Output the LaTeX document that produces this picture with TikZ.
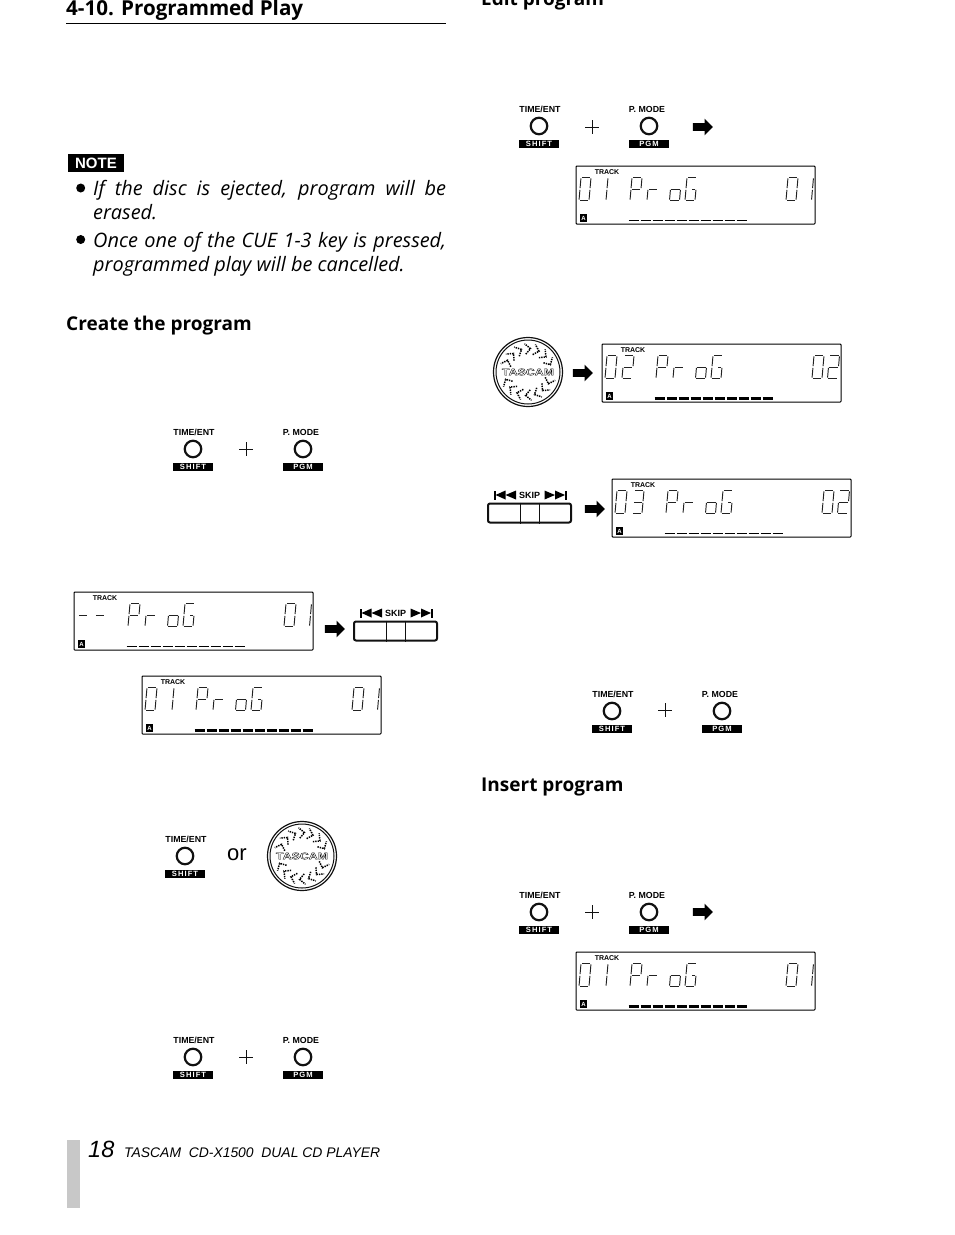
\documentclass[tikz,border=0pt]{standalone}
\usepackage{fontspec}
\setmainfont{Open Sans}
\newfontfamily\labelfont{Liberation Sans}
\newfontfamily\spacedfont[LetterSpace=14]{Liberation Sans}
\usetikzlibrary{shapes.arrows}
\definecolor{PanelInk}{HTML}{111111}
\definecolor{SegmentInk}{HTML}{222222}
\definecolor{SideBar}{HTML}{C8C8C8}
\newcommand{\SizePx}[2]{\fontsize{#1}{#2}\selectfont}
\newcommand{\OutlineWord}[1]{\special{pdf:code q 2 Tr 0.3 w 0 G 1 g}#1\special{pdf:code Q}}
\def\GlyphZero{TL/TR,TR/MR,MR/BR,BR/BL,BL/ML,ML/TL}
\def\GlyphOne{TR/MR,MR/BR}
\def\GlyphTwo{TL/TR,TR/MR,ML/MR,ML/BL,BL/BR}
\def\GlyphThree{TL/TR,TR/MR,ML/MR,MR/BR,BL/BR}
\def\GlyphDash{ML/MR}
\def\GlyphP{TL/TR,TR/MR,ML/MR,ML/TL,ML/BL}
\def\GlyphR{ML/MR,ML/BL}
\def\GlyphO{ML/MR,MR/BR,BR/BL,BL/ML}
\def\GlyphG{TL/TR,ML/TL,ML/BL,BL/BR,MR/BR,MC/MR}
\newcommand{\DrawGlyph}[3]{%
  \begin{scope}[shift={(#1,#2)}]
    \coordinate (TL) at (2,0);
    \coordinate (TR) at (12,0);
    \coordinate (ML) at (1,11.5);
    \coordinate (MC) at (6.5,11.5);
    \coordinate (MR) at (11,11.5);
    \coordinate (BL) at (0,23);
    \coordinate (BR) at (10,23);
    \foreach \from/\to in #3 {\draw[SegLine] (\from) -- (\to);}
  \end{scope}}
\newcommand{\LcdPanel}[8]{%
  \begin{scope}[shift={(#2,#3)},name prefix=#1-]
    \node[LcdFrame] (frame) at (0,0) {};
    \node[LcdTrack] (track) at (31,6.5) {TRACK};
    \node[LcdBadge] (badge) at (7.5,52) {A};
    \DrawGlyph{3}{11.5}{#4}
    \DrawGlyph{20}{11.5}{#5}
    \DrawGlyph{54}{11.5}{\GlyphP}
    \DrawGlyph{71}{11.5}{\GlyphR}
    \DrawGlyph{93.5}{11.5}{\GlyphO}
    \DrawGlyph{109}{11.5}{\GlyphG}
    \DrawGlyph{210}{11.5}{#6}
    \DrawGlyph{225.5}{11.5}{#7}
    \foreach \i in {0,...,9} {\draw[#8] ({52.5+12*\i},54.5) -- ++(10.5,0);}
  \end{scope}}
\newcommand{\PlusSign}[2]{\draw[PlusLine] (#1-7,#2) -- (#1+7,#2) (#1,#2-7) -- (#1,#2+7);}
\tikzset{
  SegLine/.style={draw=SegmentInk,line width=0.95pt,shorten >=0.9pt,shorten <=0.9pt},
  ThinDash/.style={draw=black,line width=1pt},
  BoldDash/.style={draw=black,line width=2.3pt},
  LcdFrame/.style={draw=black,line width=1pt,rounded corners=0.8pt,anchor=north west,inner sep=0pt,outer sep=0pt,minimum width=239pt,minimum height=58pt},
  LcdTrack/.style={font=\labelfont\bfseries\SizePx{7}{7},inner sep=0pt},
  LcdBadge/.style={fill=black,text=white,font=\labelfont\bfseries\SizePx{6}{6},inner sep=0pt,minimum size=7.5pt},
  KeyName/.style={font=\labelfont\bfseries\SizePx{8.8}{9},inner sep=0pt},
  KeyRing/.style={draw=PanelInk,circle,line width=2.2pt,inner sep=0pt,minimum size=16.5pt},
  KeyBar/.style={fill=black,text=white,font=\spacedfont\bfseries\SizePx{7.6}{8},inner sep=0pt,minimum width=40pt,minimum height=8pt},
  BlockArrow/.style={single arrow,fill=black,inner xsep=0pt,inner ysep=3.75pt,minimum height=20pt,single arrow head extend=4.5pt,single arrow tip angle=90},
  PlusLine/.style={draw=PanelInk,line width=1pt},
  PageHead/.style={font=\bfseries\SizePx{19}{24},anchor=base west,inner sep=0pt},
  NoteText/.style={font=\itshape\SizePx{19.9}{24},anchor=north west,inner sep=0pt,text width=353pt,align=justify},
  DotMark/.style={circle,fill=black,inner sep=0pt,minimum size=9pt},
  ChevronDots/.style={draw=black,line width=1.5pt,dash pattern=on 1.4pt off 1pt},
  pics/TimeKey/.style={code={
    \node[KeyName] (name) at (1,-17) {TIME/ENT};
    \node[KeyRing] (ring) at (0,0) {};
    \node[KeyBar] (bar) at (0,17.5) {SHIFT};
  }},
  pics/ModeKey/.style={code={
    \node[KeyName] (name) at (-2,-17) {P. MODE};
    \node[KeyRing] (ring) at (0,0) {};
    \node[KeyBar] (bar) at (0,18) {PGM};
  }},
  pics/SkipKey/.style={code={
    \node[draw=PanelInk,line width=2pt,rounded corners=2pt,inner sep=0pt,minimum width=83pt,minimum height=19pt] (frame) at (0,0) {};
    \draw[PanelInk,line width=1pt] ([xshift=-9.5pt]frame.north) -- ([xshift=-9.5pt]frame.south);
    \draw[PanelInk,line width=1pt] ([xshift=9.5pt]frame.north) -- ([xshift=9.5pt]frame.south);
    \node[font=\labelfont\bfseries\SizePx{9}{9},inner sep=0pt] (name) at (0,-18) {SKIP};
    \fill (-35.5,-22.5) rectangle (-33.5,-13.5);
    \fill (-34,-18) -- (-24,-22.5) -- (-24,-13.5) -- cycle;
    \fill (-24,-18) -- (-13.5,-22.5) -- (-13.5,-13.5) -- cycle;
    \fill (37,-22.5) rectangle (35,-13.5);
    \fill (35.5,-18) -- (25.5,-22.5) -- (25.5,-13.5) -- cycle;
    \fill (25.5,-18) -- (15,-22.5) -- (15,-13.5) -- cycle;
  }},
  pics/JogWheel/.style={code={
    \node[draw=PanelInk,circle,line width=1.2pt,inner sep=0pt,minimum size=69pt] (rim) at (0,0) {};
    \node[draw=PanelInk,circle,line width=1pt,inner sep=0pt,minimum size=64pt] (inner) at (0,0) {};
    \foreach \ang in {205,227,...,337,25,47,...,157} {
      \draw[ChevronDots] (\ang-8:18) -- (\ang+5:23.5) -- (\ang-8:28.5);
    }
    \node[font=\labelfont\bfseries\SizePx{9.5}{9.5},xscale=1.3,transform shape,inner sep=0pt] (brand) at (0,0) {\OutlineWord{TASCAM}};
  }},
}
\begin{document}
\begin{tikzpicture}[x=1pt,y=-1pt]
\useasboundingbox (0,0) rectangle (954,1235);
\node[PageHead,font=\bfseries\SizePx{20.6}{24}] (title) at (66,15) {4-10. Programmed Play};
\draw[black,line width=1pt] (66,23.5) -- (446,23.5);
\node[PageHead] (edit) at (481,5) {Edit program};
\node[PageHead] (create) at (66,330) {Create the program};
\node[PageHead] (insert) at (481,791) {Insert program};
\node[fill=black,text=white,font=\labelfont\bfseries\SizePx{15}{15},inner sep=0pt,minimum width=56pt,minimum height=17.5pt] (note) at (96,163) {NOTE};
\node[DotMark] (dotA) at (80.7,188) {};
\node[DotMark] (dotB) at (80.7,239.5) {};
\node[NoteText] (textA) at (93,180.5) {If the disc is ejected, program will be\linebreak erased.};
\node[NoteText] (textB) at (93,232) {Once one of the CUE 1-3 key is pressed,\linebreak programmed play will be cancelled.};

\pic (timeA) at (193,449) {TimeKey};
\PlusSign{246}{449}
\pic (modeA) at (303,449) {ModeKey};

\LcdPanel{lcdA}{74}{592}{\GlyphDash}{\GlyphDash}{\GlyphZero}{\GlyphOne}{ThinDash}
\node[BlockArrow] (arrowA) at (333,629) {};
\pic (skipA) at (395.5,631) {SkipKey};
\LcdPanel{lcdB}{142}{676}{\GlyphZero}{\GlyphOne}{\GlyphZero}{\GlyphOne}{BoldDash}

\pic (timeB) at (185,856) {TimeKey};
\node[font=\labelfont\SizePx{22}{22},inner sep=0pt] (orword) at (237,855) {or};
\pic (wheelA) at (302,856) {JogWheel};

\pic (timeC) at (193,1057) {TimeKey};
\PlusSign{246}{1057}
\pic (modeC) at (303,1057) {ModeKey};

\pic (timeD) at (539,126) {TimeKey};
\PlusSign{592}{127}
\pic (modeD) at (649,126) {ModeKey};
\node[BlockArrow] (arrowD) at (701,127) {};
\LcdPanel{lcdD}{576}{166}{\GlyphZero}{\GlyphOne}{\GlyphZero}{\GlyphOne}{ThinDash}

\pic (wheelE) at (528,372) {JogWheel};
\node[BlockArrow] (arrowE) at (581,373) {};
\LcdPanel{lcdE}{602}{344}{\GlyphZero}{\GlyphTwo}{\GlyphZero}{\GlyphTwo}{BoldDash}

\pic (skipF) at (529.5,513) {SkipKey};
\node[BlockArrow] (arrowF) at (593,509) {};
\LcdPanel{lcdF}{612}{479}{\GlyphZero}{\GlyphThree}{\GlyphZero}{\GlyphTwo}{ThinDash}

\pic (timeG) at (612,711) {TimeKey};
\PlusSign{665}{710}
\pic (modeG) at (722,711) {ModeKey};

\pic (timeH) at (539,912) {TimeKey};
\PlusSign{592}{912}
\pic (modeH) at (649,912) {ModeKey};
\node[BlockArrow] (arrowH) at (701,912) {};
\LcdPanel{lcdH}{576}{952}{\GlyphZero}{\GlyphOne}{\GlyphZero}{\GlyphOne}{BoldDash}

\fill[SideBar] (67,1140) rectangle (80,1208);
\node[font=\labelfont\itshape\SizePx{23.5}{24},anchor=base west,inner sep=0pt] (pagenum) at (88,1157) {18};
\node[font=\labelfont\itshape\SizePx{13.9}{15},anchor=base west,inner sep=0pt] (footer) at (124,1157) {TASCAM\ \ CD-X1500\ \ DUAL CD PLAYER};
\end{tikzpicture}
\end{document}
